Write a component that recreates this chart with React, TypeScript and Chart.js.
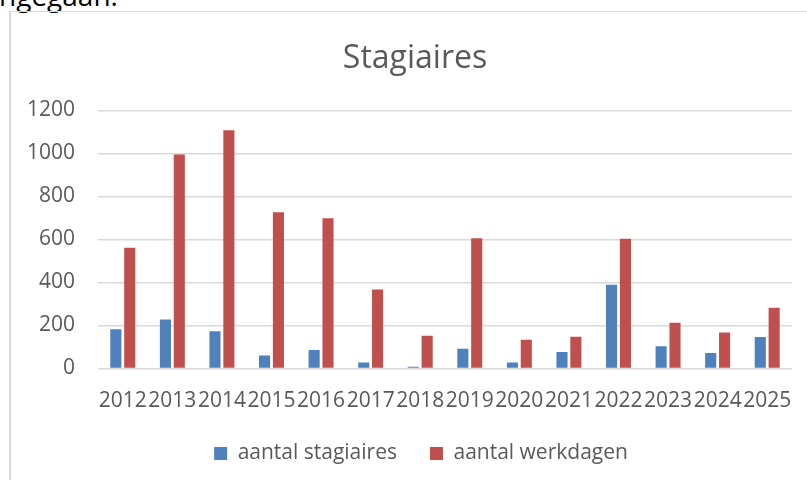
import React, { useEffect, useRef } from "react";
import { Chart, registerables } from "chart.js";

Chart.register(...registerables);

const years = ["2012","2013","2014","2015","2016","2017","2018","2019","2020","2021","2022","2023","2024","2025"];
const stagiaires = [183, 228, 173, 61, 86, 28, 8, 92, 28, 77, 389, 103, 72, 147];
const werkdagen = [561, 995, 1108, 727, 698, 367, 152, 606, 134, 148, 603, 213, 167, 283];
const yTicks = [0, 200, 400, 600, 800, 1000, 1200];

const FONT = "'Open Sans', sans-serif";
const TEXT = "#595959";

const shiftPlugin = {
  id: "shiftBlocks",
  afterLayout(chart: any) {
    const t = chart.titleBlock;
    if (t) { t.left += 5.5; t.right += 5.5; }
    const l = chart.legend;
    if (l) { l.left += 11.5; l.right += 11.5; }
  },
};

export default function App() {
  const ref = useRef<HTMLCanvasElement | null>(null);

  useEffect(() => {
    if (!ref.current) return;
    const chart = new Chart(ref.current, {
      type: "bar",
      data: {
        labels: years,
        datasets: [
          { label: "aantal stagiaires", data: stagiaires, backgroundColor: "#4F81BD", categoryPercentage: 0.56, barPercentage: 0.8 },
          { label: "aantal werkdagen", data: werkdagen, backgroundColor: "#C0504D", categoryPercentage: 0.56, barPercentage: 0.8 },
        ],
      },
      plugins: [shiftPlugin],
      options: {
        responsive: false,
        animation: false,
        layout: { padding: { left: 16, right: 38, top: 0, bottom: 14 } },
        plugins: {
          title: {
            display: true,
            text: "Stagiaires",
            color: TEXT,
            font: { family: FONT, size: 32, weight: "normal", lineHeight: 1.2 },
            padding: { top: 28, bottom: 32 },
          },
          legend: {
            position: "bottom",
            labels: {
              color: TEXT,
              font: { family: FONT, size: 21 },
              boxWidth: 13,
              boxHeight: 13,
              padding: 33,
            },
          },
          tooltip: { enabled: false },
        },
        scales: {
          x: {
            afterFit: (axis: any) => { axis.height = 41.5; },
            grid: { display: false },
            border: { display: false },
            ticks: {
              color: TEXT,
              font: { family: FONT, size: 21 },
              autoSkip: false,
              maxRotation: 0,
              minRotation: 0,
              padding: 11.5,
            },
          },
          y: {
            min: 0,
            max: 1200,
            afterFit: (axis: any) => { axis.width = 71; },
            afterBuildTicks: (axis: any) => { axis.ticks = yTicks.map((v) => ({ value: v })); },
            grid: { color: "#d9d9d9", lineWidth: 1.5, drawTicks: false },
            border: { display: false },
            ticks: {
              color: TEXT,
              font: { family: FONT, size: 21 },
              padding: 23,
              callback: (v: any) => String(v),
            },
          },
        },
      },
    });
    return () => chart.destroy();
  }, []);

  return (
    <div style={{ position: "fixed", inset: 0, overflow: "hidden", background: "#fff" }}>
      <div
        style={{
          position: "absolute",
          left: -1,
          top: -24,
          fontFamily: FONT,
          fontSize: 28,
          color: "#000",
          whiteSpace: "nowrap",
        }}
      >
        ngegaan.
      </div>
      <div
        style={{
          position: "absolute",
          left: 9,
          top: 11,
          width: 830,
          height: 500,
          borderLeft: "2px solid #d9d9d9",
          borderTop: "1.5px solid #d9d9d9",
        }}
      >
        <canvas ref={ref} width={819} height={476} style={{ display: "block" }} />
      </div>
    </div>
  );
}
